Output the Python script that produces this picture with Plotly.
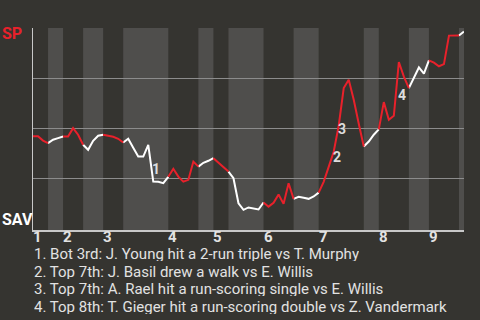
import plotly.graph_objects as go

# Win probability for SP after each plate appearance (0 = SAV wins, 1 = SP wins)
wp = [
    0.46, 0.46, 0.438, 0.425,                 # top 1
    0.442, 0.45, 0.458,                        # bot 1
    0.458, 0.50, 0.467, 0.417,                 # top 2
    0.392, 0.437, 0.462, 0.467,                # bot 2
    0.462, 0.457, 0.447, 0.428,                # top 3
    0.447, 0.402, 0.358, 0.358, 0.417, 0.233, 0.232, 0.225, 0.257,  # bot 3
    0.297, 0.258, 0.233, 0.242, 0.333, 0.308,  # top 4
    0.327, 0.337, 0.35,                        # bot 4
    0.327, 0.307, 0.283,                       # top 5
    0.25, 0.125, 0.092, 0.104, 0.099, 0.094, 0.129,  # bot 5
    0.108, 0.127, 0.169, 0.122, 0.225, 0.147,  # top 6
    0.157, 0.152, 0.147, 0.159, 0.178,         # bot 6
    0.232, 0.307, 0.382, 0.512, 0.70, 0.742, 0.642, 0.522, 0.408,  # top 7
    0.433, 0.467, 0.494,                       # bot 7
    0.63, 0.542, 0.562, 0.83, 0.757, 0.70,     # top 8
    0.752, 0.803, 0.772, 0.838,                # bot 8
    0.827, 0.809, 0.82, 0.962, 0.963, 0.963,  # top 9
    0.983,                                     # bot 9
]

# Event index where each half-inning starts (last value = final event)
half_bounds = [0, 3, 6, 10, 14, 18, 27, 33, 36, 39, 46, 52, 57, 66, 69, 75, 79, 85, 86]
inning_labels = ["1", "2", "3", "4", "5", "6", "7", "8", "9"]

team_top = "SP"
team_bottom = "SAV"

events = [
    "1. Bot 3rd: J. Young hit a 2-run triple vs T. Murphy",
    "2. Top 7th: J. Basil drew a walk vs E. Willis",
    "3. Top 7th: A. Rael hit a run-scoring single vs E. Willis",
    "4. Top 8th: T. Gieger hit a run-scoring double vs Z. Vandermark",
]
# label anchor positions (event index, win prob)
event_x = [24.6, 60.7, 61.7, 73.7]
event_y = [0.298, 0.358, 0.498, 0.665]

BG = "#353430"
BAND = "#4f4e4c"
RED = "#e8212b"
WHITE = "#ffffff"
TXT = "#e2e2e2"
FONT = "Roboto"

fig = go.Figure()

# light bands for bottom halves
shapes = []
for h in range(len(half_bounds) - 1):
    if h % 2 == 1:
        shapes.append(dict(type="rect", xref="x", yref="paper",
                           x0=half_bounds[h], x1=half_bounds[h + 1], y0=0, y1=1,
                           fillcolor=BAND, line_width=0, layer="below"))

# line segments colored by half-inning
xr, yr, xw, yw = [], [], [], []
for h in range(len(half_bounds) - 1):
    xs = list(range(half_bounds[h], half_bounds[h + 1] + 1))
    ys = [wp[i] for i in xs]
    if h % 2 == 0:
        xr += xs + [None]; yr += ys + [None]
    else:
        xw += xs + [None]; yw += ys + [None]

fig.add_trace(go.Scatter(x=xw, y=yw, mode="lines", line=dict(color=WHITE, width=2),
                         hoverinfo="skip", showlegend=False))
fig.add_trace(go.Scatter(x=xr, y=yr, mode="lines", line=dict(color=RED, width=2),
                         hoverinfo="skip", showlegend=False))

ann = []
# inning labels
inning_starts = half_bounds[0:-1:2]
for lab, xs in zip(inning_labels, inning_starts):
    ann.append(dict(x=xs, y=(230 - 237) / 202, xref="x", yref="paper", text=f"<b>{lab}</b>",
                    showarrow=False, xanchor="left", yanchor="middle", xshift=-1,
                    height=14, borderpad=0,
                    font=dict(family=FONT, size=15, color=TXT)))
# team labels
ann.append(dict(x=-33 / 431, y=(230 - 33.3) / 202, xref="paper", yref="paper",
                text=f"<b>{team_top}</b>", showarrow=False, xanchor="left", yanchor="middle",
                font=dict(family=FONT, size=16, color=RED)))
ann.append(dict(x=-33 / 431, y=(230 - 219) / 202, xref="paper", yref="paper",
                text=f"<b>{team_bottom}</b>", showarrow=False, xanchor="left", yanchor="middle",
                font=dict(family=FONT, size=16, color=WHITE)))
# event number labels on chart
for k, (ex, ey) in enumerate(zip(event_x, event_y)):
    ann.append(dict(x=ex, y=ey, xref="x", yref="y", text=f"<b>{k + 1}</b>",
                    showarrow=False, xanchor="center", yanchor="middle",
                    font=dict(family=FONT, size=14, color="#dddddd")))
# event list
for k, t in enumerate(events):
    ann.append(dict(x=0, y=(230 - (253.3 + 17.8 * k)) / 202, xref="paper", yref="paper",
                    text=t, showarrow=False, xanchor="left", yanchor="middle",
                    height=15, borderpad=0,
                    font=dict(family=FONT, size=15, color=TXT)))

fig.update_layout(
    width=480, height=320,
    margin=dict(l=33, r=16, t=28, b=90),
    paper_bgcolor=BG, plot_bgcolor=BG,
    shapes=shapes, annotations=ann,
    xaxis=dict(range=[0, half_bounds[-1]], showgrid=False, zeroline=False,
               showticklabels=False, ticks="", showline=True, linecolor="#c8c8c8",
               linewidth=2, fixedrange=True),
    yaxis=dict(range=[-0.0085, 1.0], tickvals=[0.25, 0.5, 0.75, 1.0], showticklabels=False,
               gridcolor="#8c8c8c", gridwidth=1, zeroline=False, ticks="",
               showline=True, linecolor="#c8c8c8", linewidth=1, fixedrange=True),
    font=dict(family=FONT),
)

fig.write_html("out.html", config={"displayModeBar": False})
